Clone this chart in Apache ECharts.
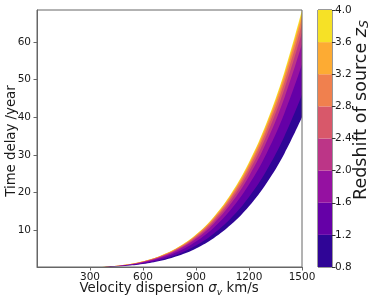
<!DOCTYPE html>
<html>
<head>
<meta charset="utf-8">
<script src="https://cdn.jsdelivr.net/npm/echarts@6/dist/echarts.min.js"></script>
<style>html,body{margin:0;padding:0;background:#fff;}#c{width:374px;height:302px;}</style>
</head>
<body>
<div id="c"></div>
<script>
// Velocity dispersion (km/s)
const sigma = [200,300,400,500,600,700,800,900,1000,1100,1200,1300,1400,1500];
// Time delay (years) along each source-redshift contour level
const levels = [0.8,1.2,1.6,2.0,2.4,2.8,3.2,3.6,4.0];
const delayZ08 = [0.013,0.064,0.202,0.494,1.024,1.897,3.236,5.184,7.901,11.57,16.38,22.57,30.35,40.0];
const delayZ12 = [0.015,0.074,0.233,0.568,1.178,2.182,3.722,5.962,9.086,13.30,18.84,25.95,34.91,46.0];
const delayZ16 = [0.017,0.086,0.273,0.667,1.382,2.561,4.369,6.998,10.67,15.62,22.12,30.46,40.98,54.0];
const delayZ20 = [0.019,0.095,0.301,0.735,1.523,2.822,4.814,7.711,11.75,17.21,24.37,33.57,45.15,59.5];
const delayZ24 = [0.020,0.100,0.316,0.772,1.600,2.964,5.057,8.100,12.35,18.08,25.60,35.26,47.43,62.5];
const delayZ28 = [0.021,0.104,0.328,0.800,1.659,3.073,5.243,8.398,12.80,18.74,26.54,36.56,49.17,64.8];
const delayZ32 = [0.021,0.106,0.336,0.821,1.702,3.154,5.380,8.618,13.14,19.23,27.24,37.52,50.46,66.5];
const delayZ36 = [0.021,0.108,0.342,0.835,1.731,3.206,5.469,8.761,13.35,19.55,27.69,38.14,51.30,67.6];
const delayZ40 = [0.022,0.110,0.346,0.846,1.754,3.249,5.542,8.878,13.53,19.81,28.06,38.64,51.98,68.5];
const xTicks = [300,600,900,1200,1500];
const yTicks = [10,20,30,40,50,60];
const cbTicks = [0.8,1.2,1.6,2.0,2.4,2.8,3.2,3.6,4.0];

const bandColors = ['#2f0596','#6500a7','#9511a1','#bc3587','#d8586a','#f0804e','#fdab33','#f6e126'];
const curves = [delayZ08,delayZ12,delayZ16,delayZ20,delayZ24,delayZ28,delayZ32,delayZ36,delayZ40];

const txt = '#1a1a1a';
const frame = '#666666';
const series = [];
// Painter's order: area under the highest contour first, lower contours on top
for (let b=7;b>=0;b--){
  series.push({
    type:'line', xAxisIndex:0, yAxisIndex:0, symbol:'none', smooth:0.4,
    lineStyle:{width:0, opacity:0},
    areaStyle:{color:bandColors[b], opacity:1, origin:'start'},
    data: sigma.map((s,i)=>[s, curves[b+1][i]]), silent:true
  });
}
// below the lowest contour: blank
series.push({
  type:'line', xAxisIndex:0, yAxisIndex:0, symbol:'none', smooth:0.4,
  lineStyle:{width:0, opacity:0},
  areaStyle:{color:'#ffffff', opacity:1, origin:'start'},
  data: sigma.map((s,i)=>[s, delayZ08[i]]), silent:true
});
// colorbar
series.push({type:'bar', stack:'cb', xAxisIndex:1, yAxisIndex:1, barWidth:'100%',
  itemStyle:{color:'rgba(0,0,0,0)'}, data:[cbTicks[0]], silent:true});
for (let b=0;b<8;b++){
  series.push({type:'bar', stack:'cb', xAxisIndex:1, yAxisIndex:1, barWidth:'100%',
    itemStyle:{color:bandColors[b]}, data:[+(cbTicks[b+1]-cbTicks[b]).toFixed(2)], silent:true});
}

const chart = echarts.init(document.getElementById('c'), null, {renderer:'canvas'});
chart.setOption({
  animation:false,
  backgroundColor:'#fff',
  textStyle:{fontFamily:'DejaVu Sans'},
  grid:[
    {left:37, top:10, width:265, height:257, show:true, borderColor:frame, borderWidth:1, backgroundColor:'rgba(0,0,0,0)', z:5},
    {left:318, top:10, width:14, height:257, show:true, borderColor:'#333', borderWidth:1}
  ],
  xAxis:[
    {type:'value', gridIndex:0, min:0, max:1500, z:10,
     axisLine:{show:true, lineStyle:{color:frame}},
     axisTick:{show:true, length:3.5, customValues:xTicks, lineStyle:{color:frame}},
     axisLabel:{customValues:xTicks, color:txt, fontSize:10.5, fontFamily:'DejaVu Sans', margin:5,
       formatter:v=>String(v)},
     splitLine:{show:false}},
    {type:'category', gridIndex:1, data:['cb'], show:false}
  ],
  yAxis:[
    {type:'value', gridIndex:0, min:0.24, max:68.5, z:10,
     axisLine:{show:true, lineStyle:{color:frame}},
     axisTick:{show:true, length:3.5, customValues:yTicks, lineStyle:{color:frame}},
     axisLabel:{customValues:yTicks, color:txt, fontSize:10.5, fontFamily:'DejaVu Sans', margin:6,
       formatter:v=>String(v)},
     splitLine:{show:false}},
    {type:'value', gridIndex:1, position:'right', min:0.8, max:4.0,
     axisLine:{show:false},
     axisTick:{show:true, length:3.5, customValues:cbTicks, lineStyle:{color:'#333'}},
     axisLabel:{customValues:cbTicks, color:txt, fontSize:10.5, fontFamily:'DejaVu Sans', margin:3,
       formatter:v=>(+v).toFixed(1)},
     splitLine:{show:false}}
  ],
  series:series,
  graphic:[
    {type:'text', x:12, y:141, rotation:Math.PI/2,
     style:{text:'Time delay /year', fill:txt, font:'13.3px "DejaVu Sans"', align:'center', verticalAlign:'middle'}},
    {type:'text', x:169, y:289,
     style:{text:'{a|Velocity dispersion }{i|σ}{s|v}{a| km/s}', fill:txt, align:'center', verticalAlign:'middle',
       rich:{
         a:{fontSize:13.3, fontFamily:'DejaVu Sans', fill:txt, lineHeight:18, verticalAlign:'middle'},
         i:{fontSize:13.3, fontFamily:'DejaVu Sans', fontStyle:'italic', fill:txt, lineHeight:18, verticalAlign:'middle'},
         s:{fontSize:9.3, fontFamily:'DejaVu Sans', fontStyle:'italic', fill:txt, lineHeight:18, verticalAlign:'middle', padding:[7,0,0,0]}
       }}},
    {type:'text', x:361, y:110, rotation:Math.PI/2,
     style:{text:'{a|Redshift of source }{i|z}{s|S}', fill:txt, align:'center', verticalAlign:'middle',
       rich:{
         a:{fontSize:17.5, fontFamily:'DejaVu Sans', fill:txt, lineHeight:22, verticalAlign:'middle'},
         i:{fontSize:17.5, fontFamily:'DejaVu Sans', fontStyle:'italic', fill:txt, lineHeight:22, verticalAlign:'middle'},
         s:{fontSize:12.5, fontFamily:'DejaVu Sans', fontStyle:'italic', fill:txt, lineHeight:22, verticalAlign:'middle', padding:[8,0,0,0]}
       }}}
  ]
});
</script>
</body>
</html>
